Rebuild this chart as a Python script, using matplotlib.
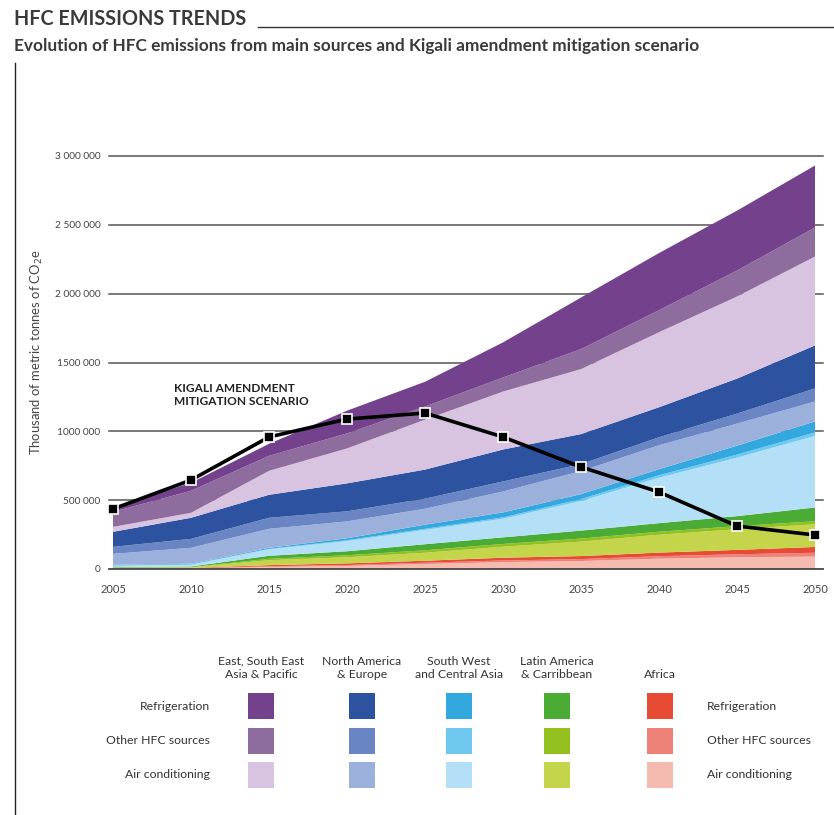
import matplotlib
matplotlib.use("Agg")
import matplotlib.pyplot as plt
from matplotlib.patches import Rectangle
from matplotlib.lines import Line2D

plt.rcParams['font.family'] = ['Lato', 'DejaVu Sans']

years = [2005, 2010, 2015, 2020, 2025, 2030, 2035, 2040, 2045, 2050]

# Thousand tonnes CO2e, by region and source
africa_ac    = [3, 4, 15, 22, 36, 50, 58, 75, 85, 90]
africa_other = [1, 2, 5, 7, 10, 12, 14, 18, 22, 28]
africa_refr  = [1, 2, 8, 12, 14, 20, 22, 26, 32, 42]
latin_ac     = [4, 4, 36, 44, 58, 80, 105, 130, 150, 165]
latin_other  = [2, 2, 10, 15, 18, 20, 22, 22, 22, 22]
latin_refr   = [3, 4, 22, 29, 44, 48, 58, 62, 73, 100]
sw_ac        = [10, 14, 47, 74, 104, 135, 215, 330, 425, 520]
sw_other     = [2, 2, 4, 6, 8, 10, 14, 18, 22, 25]
sw_refr      = [4, 4, 7, 14, 30, 36, 36, 44, 65, 80]
na_ac        = [80, 116, 138, 123, 116, 152, 167, 174, 160, 145]
na_other     = [51, 65, 80, 73, 73, 73, 51, 58, 73, 95]
na_refr      = [109, 153, 167, 203, 211, 232, 218, 218, 254, 312]
ea_ac        = [36, 36, 174, 254, 363, 421, 472, 545, 596, 646]
ea_other     = [109, 160, 109, 109, 95, 102, 145, 160, 189, 211]
ea_refr      = [30, 58, 87, 165, 180, 255, 375, 415, 435, 450]

kigali = [436, 646, 959, 1089, 1133, 959, 741, 559, 312, 247]

ytick_vals = [0, 500000, 1000000, 1500000, 2000000, 2500000, 3000000]
ytick_labels = ["0", "500 000", "1000 000", "1500 000", "2 000 000", "2 500 000", "3 000 000"]

regions = ["East, South East\nAsia & Pacific", "North America\n& Europe",
           "South West\nand Central Asia", "Latin America\n& Carribbean", "Africa"]
sources = ["Refrigeration", "Other HFC sources", "Air conditioning"]

colors = {
    "ea": ["#74418c", "#8e6c9e", "#d8c4e0"],
    "na": ["#2c52a0", "#6a85c4", "#9bb1dc"],
    "sw": ["#33a8df", "#6fc8f0", "#b3e0f6"],
    "la": ["#4aab35", "#93c01f", "#c5d54b"],
    "af": ["#e84b33", "#ee8279", "#f6bbb0"],
}

W, H = 834, 815
fig = plt.figure(figsize=(W / 100, H / 100), dpi=100)
fig.patch.set_facecolor("white")

def frac_box(x0, y0, x1, y1):
    return [x0 / W, 1 - y1 / H, (x1 - x0) / W, (y1 - y0) / H]

ax = fig.add_axes(frac_box(113, 156, 815, 569))

stack = [africa_ac, africa_other, africa_refr,
         latin_ac, latin_other, latin_refr,
         sw_ac, sw_other, sw_refr,
         na_ac, na_other, na_refr,
         ea_ac, ea_other, ea_refr]
stack_scaled = [[v * 1000 for v in s] for s in stack]
stack_colors = [colors["af"][2], colors["af"][1], colors["af"][0],
                colors["la"][2], colors["la"][1], colors["la"][0],
                colors["sw"][2], colors["sw"][1], colors["sw"][0],
                colors["na"][2], colors["na"][1], colors["na"][0],
                colors["ea"][2], colors["ea"][1], colors["ea"][0]]

ax.stackplot(years, *stack_scaled, colors=stack_colors, linewidth=0, zorder=2)

for v in ytick_vals[1:]:
    ax.axhline(v, xmin=-4 / 702, xmax=1 + 8 / 702, color="#555555", lw=1.1,
               zorder=1, clip_on=False)
ax.axhline(0, xmin=-4 / 702, xmax=1 + 8 / 702, color="#444444", lw=1.3,
           zorder=3, clip_on=False)

ax.plot(years, [k * 1000 for k in kigali], color="black", lw=2.6, marker="s",
        ms=7.5, mfc="black", mec="white", mew=1.2, zorder=6, clip_on=False)

ax.set_xlim(2005, 2050)
ax.set_ylim(0, 3000000)
ax.set_xticks(years)
ax.set_xticklabels([str(y) for y in years], fontsize=8, color="#444444")
ax.set_yticks(ytick_vals)
ax.set_yticklabels(ytick_labels, fontsize=7.3, color="#444444")
ax.tick_params(axis="x", length=0, pad=11)
ax.tick_params(axis="y", length=0, pad=9)
for s in ax.spines.values():
    s.set_visible(False)
ax.set_facecolor("none")

ax.text(2008.9, 1350000, "KIGALI AMENDMENT\nMITIGATION SCENARIO", fontsize=8.6,
        fontweight="bold", color="#222222", va="top", ha="left", linespacing=1.2,
        zorder=7)

# overlay in pixel coordinates
ov = fig.add_axes([0, 0, 1, 1])
ov.set_xlim(0, W)
ov.set_ylim(H, 0)
ov.axis("off")
ov.set_zorder(-1)

ov.text(14, 19, "HFC EMISSIONS TRENDS", fontsize=14.2, fontweight="bold",
        color="#3a3a3a", va="center", ha="left")
ov.add_line(Line2D([258, 834], [27, 27], color="#333333", lw=1))
ov.text(14, 46, "Evolution of HFC emissions from main sources and Kigali amendment mitigation scenario",
        fontsize=12.4, fontweight="bold", color="#3a3a3a", va="center", ha="left")
ov.add_line(Line2D([15, 15], [63, 815], color="#222222", lw=1))

ov.text(37, 352, "Thousand of metric tonnes of CO$_2$e", fontsize=9.4, color="#444444",
        rotation=90, ha="center", va="center")

col_x = [261, 362, 459, 557, 660]
row_y = [706, 741, 775]
region_keys = ["ea", "na", "sw", "la", "af"]
for i, (cx, name) in enumerate(zip(col_x, regions)):
    hy = 675 if "\n" not in name else 668
    ov.text(cx, hy, name, fontsize=8.8, color="#333333", ha="center", va="center",
            linespacing=1.25)
    for j, ry in enumerate(row_y):
        ov.add_patch(Rectangle((cx - 13, ry - 13), 26, 26,
                               facecolor=colors[region_keys[i]][j], edgecolor="none"))
for j, (ry, label) in enumerate(zip(row_y, sources)):
    ov.text(210, ry, label, fontsize=8.8, color="#333333", ha="right", va="center")
    ov.text(707, ry, label, fontsize=8.8, color="#333333", ha="left", va="center")

fig.savefig("out.png", dpi=100, facecolor="white")
